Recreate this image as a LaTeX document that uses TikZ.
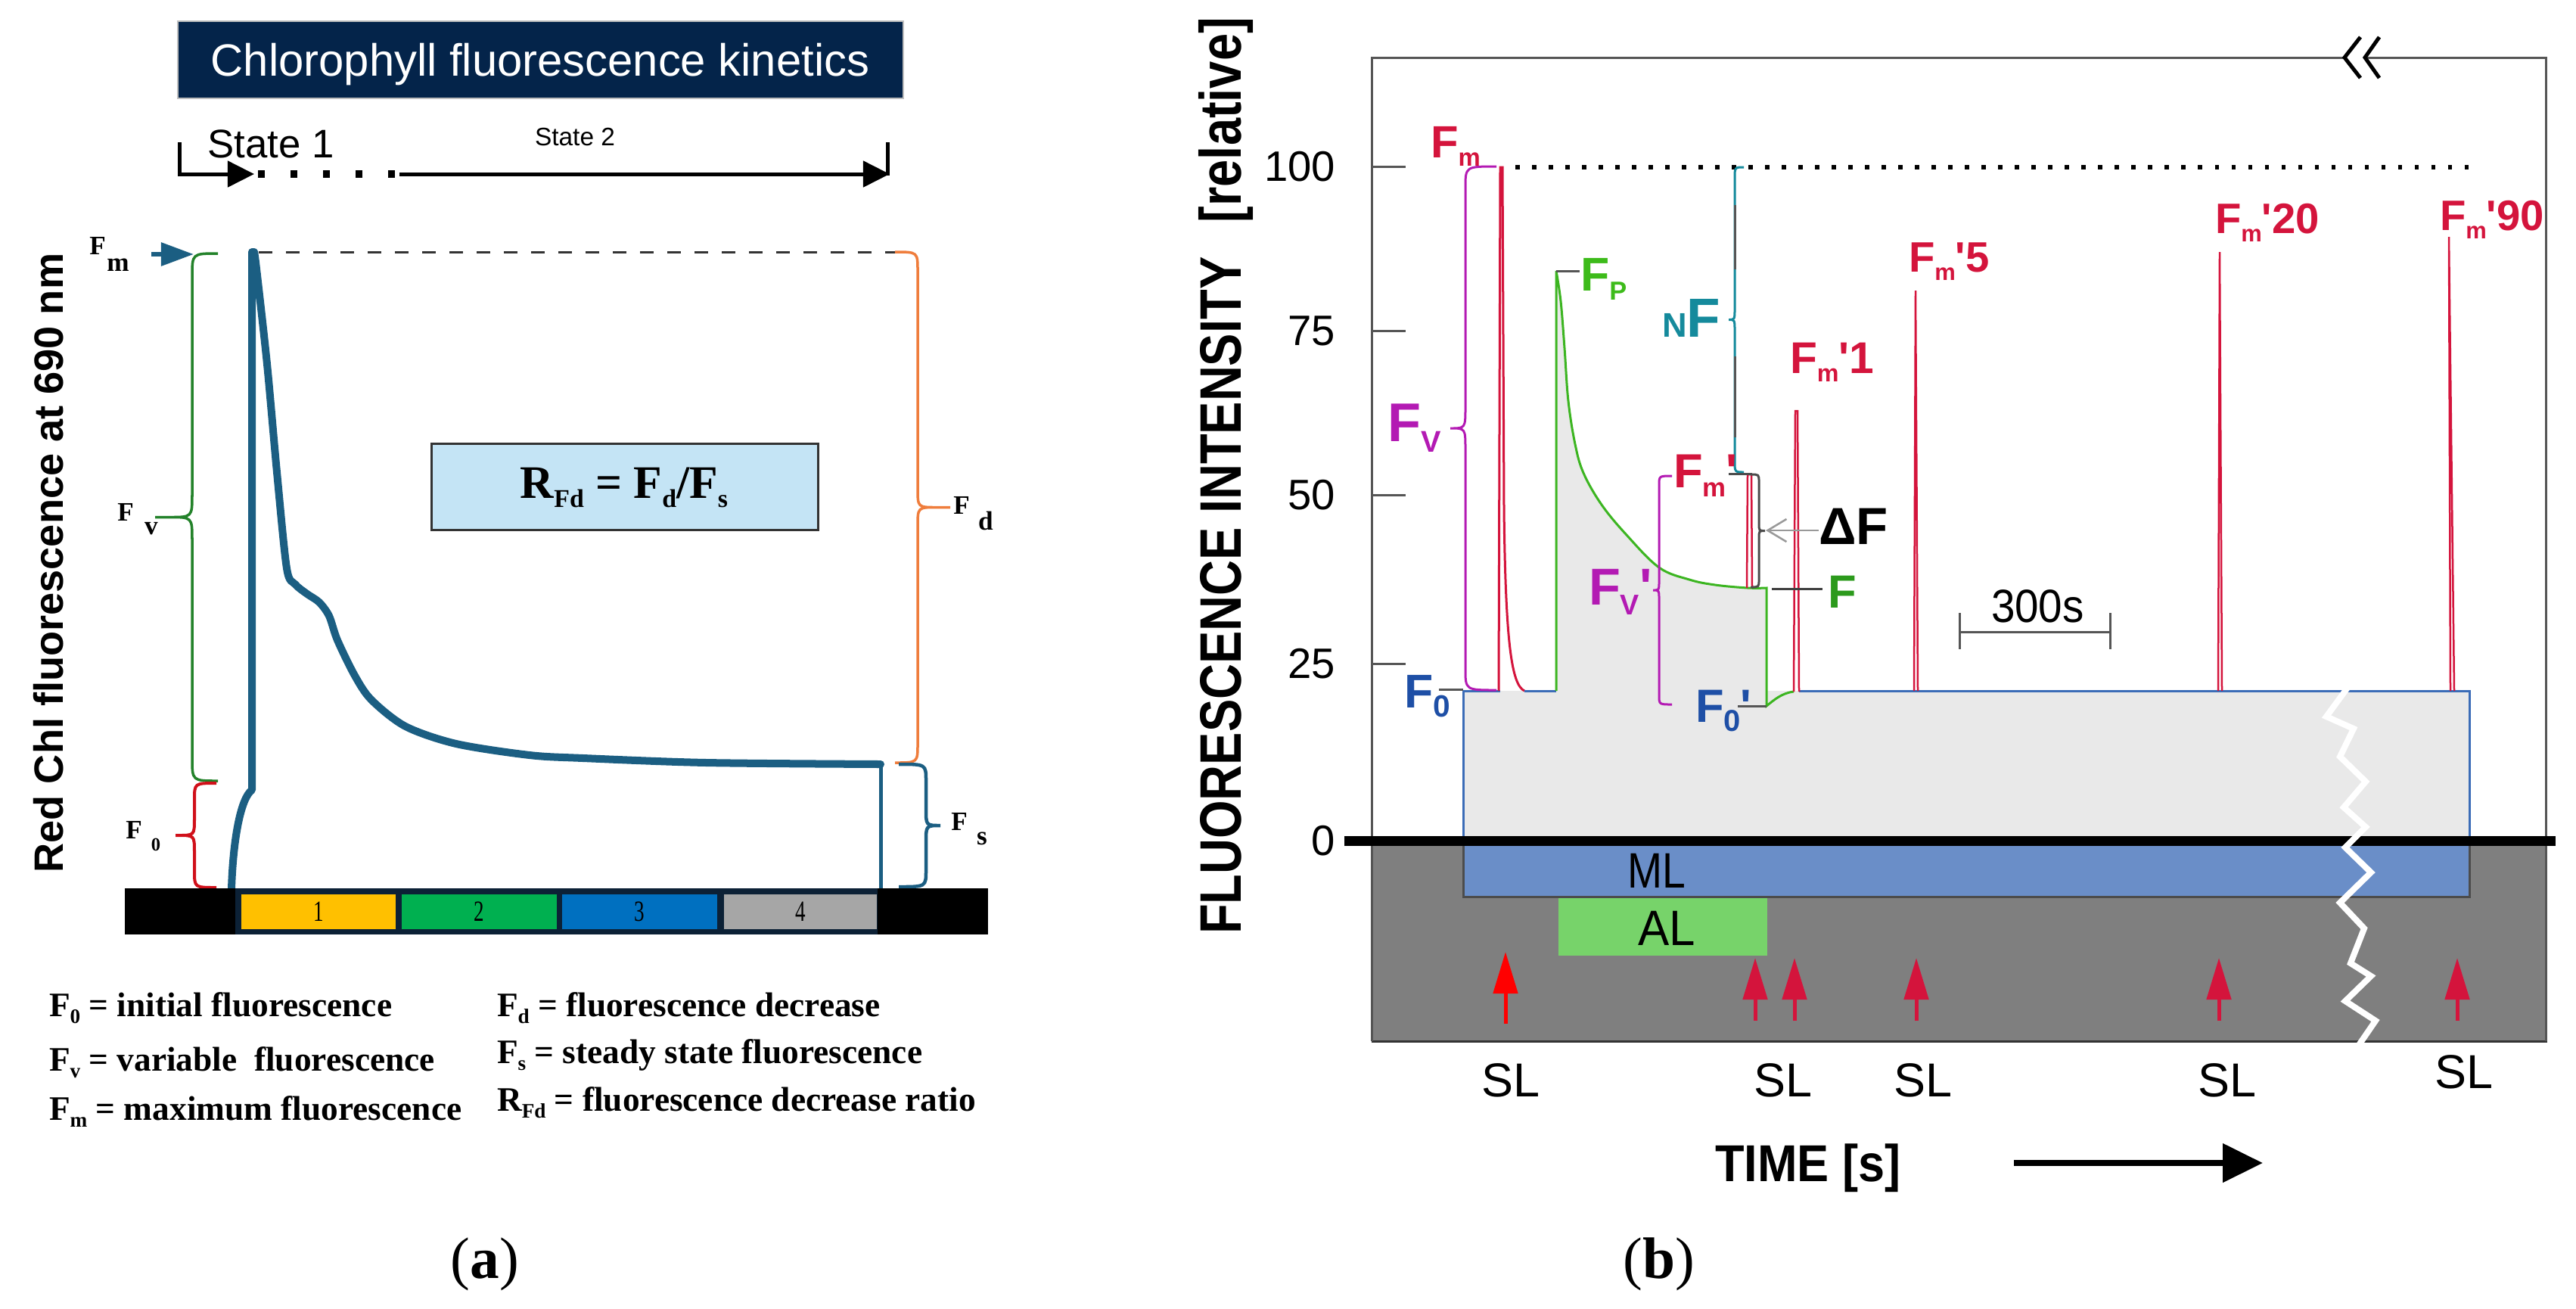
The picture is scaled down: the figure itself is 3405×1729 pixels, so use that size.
\documentclass[tikz,border=0pt]{standalone}
\usepackage{fontspec}
\usepackage{graphicx}
\setmainfont{Liberation Serif}
\newfontfamily\sans{Liberation Sans}
\newfontfamily\serif{Liberation Serif}
\usetikzlibrary{arrows.meta}
\newcommand\fsz[1]{\fontsize{#1}{#1}\selectfont}
\newcommand\lsub[2][0.55]{\raisebox{-0.2em}{\scalebox{#1}{#2}}}
\newcommand\bracev[7]{%
 \pgfmathsetmacro\bym{(#5+#6)/2}%
 \pgfmathsetmacro\bxm{#2+(#4-#2)*min(1,#7/abs(#4-#2))}%
 \draw[#1] (#3,#5) .. controls (#2,#5) .. (#2,{#5+#7}) -- (#2,{\bym-#7}) .. controls (#2,\bym) .. (\bxm,\bym) -- (#4,\bym) -- (\bxm,\bym) .. controls (#2,\bym) .. (#2,{\bym+#7}) -- (#2,{#6-#7}) .. controls (#2,#6) .. (#3,#6);}
\definecolor{navy}{HTML}{04244A}
\definecolor{cblue}{HTML}{1B5E82}
\definecolor{bgreen}{HTML}{23822A}
\definecolor{bred}{HTML}{D0101A}
\definecolor{borange}{HTML}{EF7D3C}
\definecolor{boxblue}{HTML}{C4E4F5}
\definecolor{barnavy}{HTML}{0C2136}
\definecolor{bxa}{HTML}{FFC000}
\definecolor{bxb}{HTML}{00B050}
\definecolor{bxc}{HTML}{0070C0}
\definecolor{bxd}{HTML}{A6A6A6}
\definecolor{crim}{HTML}{D4143C}
\definecolor{mag}{HTML}{B31AB3}
\definecolor{tealc}{HTML}{158A9C}
\definecolor{lblue}{HTML}{1E4FA6}
\definecolor{tblue}{HTML}{3B6CB7}
\definecolor{tgreen}{HTML}{3CB521}
\definecolor{lgreen}{HTML}{3DBB1A}
\definecolor{fgreen}{HTML}{2C9A1C}
\definecolor{lgrayc}{HTML}{E9E9E9}
\definecolor{dgrayc}{HTML}{7F7F7F}
\definecolor{mlblue}{HTML}{6A8EC8}
\definecolor{algreen}{HTML}{77D36A}
\definecolor{frgray}{HTML}{555555}
\begin{document}
\begin{tikzpicture}[x=0.01cm,y=-0.01cm,
  every node/.style={inner sep=0pt,outer sep=0pt},
  serlab/.style={font=\serif\bfseries\fsz{10}},
  leg/.style={anchor=base west,font=\serif\bfseries\fsz{12.9}},
  blab/.style={anchor=base west},
  stline/.style={line width=0.05cm},
  trace/.style={line width=0.03cm},
  thin gray/.style={frgray,line width=0.03cm},
  slarrow/.style={crim,line width=0.05cm,-{Triangle[length=0.55cm,width=0.32cm]}},
  sllab/.style={font=\sans\fsz{17.9}},
  tick/.style={anchor=east,font=\sans\fsz{16}}]
\useasboundingbox (0,0) rectangle (3405,1729);

% ================= Panel a =================
\fill[navy,draw=gray!50,line width=0.02cm] (235,28) rectangle (1194,130);
\node[anchor=base,text=white,font=\sans\fsz{17}] (title) at (714,100) {Chlorophyll fluorescence kinetics};

\node[anchor=base,font=\sans\fsz{15}] (st1) at (358,208) {State 1};
\node[anchor=base,font=\sans\fsz{9.5}] (st2) at (760,192) {State 2};
\draw[stline,-{Triangle[length=0.35cm,width=0.34cm]}] (237,188) -- (237,230) -- (336,230);
\draw[line width=0.1cm,dash pattern=on 0.09cm off 0.34cm] (341,230) -- (526,230);
\draw[stline,-{Triangle[length=0.35cm,width=0.34cm]}] (528,230) -- (1176,230);
\draw[stline] (1173,188) -- (1173,232);

\node[rotate=90,font=\sans\bfseries\fsz{15.4}] (ylabA) at (64,744) {Red Chl fluorescence at 690 nm};

% Fm arrow
\coordinate (fmtail) at (200,336);
\coordinate (fmhead) at (256,336);
\draw[cblue,line width=0.06cm,-{Triangle[length=0.43cm,width=0.3cm]}] (fmtail) -- (fmhead);

% braces
\bracev{bgreen,line width=0.035cm}{254}{288}{205}{335}{1032}{30}
\bracev{bred,line width=0.04cm}{257}{286}{232}{1035}{1173}{22}
\bracev{borange,line width=0.035cm}{1213}{1183}{1256}{333}{1008}{25}
\bracev{cblue,line width=0.045cm}{1224}{1188}{1243}{1010}{1172}{22}

% labels a
\node[serlab] (aFm) at (129,325) {F};  \node[serlab] (aFmS) at (156,350) {m};
\node[serlab] (aFv) at (166,677) {F};  \node[serlab] (aFvS) at (200,699) {v};
\node[serlab] (aF0) at (177,1097) {F}; \node[font=\serif\bfseries\fsz{7}] (aF0S) at (206,1116) {0};
\node[serlab] (aFd) at (1271,668) {F}; \node[serlab] (aFdS) at (1303,688) {d};
\node[serlab] (aFs) at (1268,1086) {F}; \node[serlab] (aFsS) at (1298,1108) {s};

% dashed Fm level
\draw[dash pattern=on 0.18cm off 0.18cm,line width=0.03cm,black!80] (342,333) -- (1183,333);

% kinetics curve
\draw[cblue,line width=0.1cm,line join=round,line cap=round]
  (306,1175) .. controls (308,1110) and (318,1055) .. (333,1044) -- (333,333)
  -- plot[smooth,tension=0.5] coordinates {(336,333) (339,355) (353,481) (366,624) (379,751) (390,772) (406,785) (422,796) (435,814) (446,846) (469,893) (491,925) (536,960) (603,983) (700,998) (771,1002) (934,1008) (1164,1010)};
\draw[cblue,line width=0.05cm] (1164,1008) -- (1164,1174);

% ratio box
\draw[fill=boxblue,draw=black!80,line width=0.03cm] (570,586) rectangle (1081,700);
\node[anchor=base,font=\serif\bfseries\fsz{17.5}] (rfd) at (825,658) {R\lsub{Fd}~=~F\lsub{d}/F\lsub{s}};

% bottom bar
\fill[black] (165,1174) rectangle (1306,1235);
\fill[barnavy] (311,1174) rectangle (1160,1235);
\fill[bxa] (319,1182) rectangle (523,1228);
\fill[bxb] (531,1182) rectangle (736,1228);
\fill[bxc] (743,1182) rectangle (948,1228);
\fill[bxd] (957,1182) rectangle (1159,1228);
\node[font=\serif\fsz{11}] (n1) at (421,1205) {\scalebox{0.7}[1]{1}};
\node[font=\serif\fsz{11}] (n2) at (633,1205) {\scalebox{0.7}[1]{2}};
\node[font=\serif\fsz{11}] (n3) at (845,1205) {\scalebox{0.7}[1]{3}};
\node[font=\serif\fsz{11}] (n4) at (1058,1205) {\scalebox{0.7}[1]{4}};

% legend
\node[leg] (l1) at (65,1343) {F\lsub[0.6]{0} = initial fluorescence};
\node[leg] (l2) at (65,1415) {F\lsub[0.6]{v} = variable\ \ fluorescence};
\node[leg] (l3) at (65,1480) {F\lsub[0.6]{m} = maximum fluorescence};
\node[leg] (l4) at (657,1343) {F\lsub[0.6]{d} = fluorescence decrease};
\node[leg] (l5) at (657,1405) {F\lsub[0.6]{s} = steady state fluorescence};
\node[leg] (l6) at (657,1468) {R\lsub[0.6]{Fd} = fluorescence decrease ratio};

\node[font=\serif\fsz{22}] (capa) at (641,1671) {(\textbf{a})};

% ================= Panel b =================
\fill[dgrayc] (1813,1111) rectangle (3367,1376);
\draw[black!80,line width=0.03cm] (1813,1376) -- (3367,1376);
\fill[lgrayc] (1936,1105) -- (1936,913) -- (2057,913) -- (2057,358)
  -- plot[smooth,tension=0.6] coordinates {(2057,358) (2063,398) (2068,460) (2073,530) (2082,587) (2093,625) (2117,667) (2150,707) (2193,750) (2233,766) (2267,773) (2310,777) (2335,777)}
  -- (2335,913) -- (3264,913) -- (3264,1105) -- cycle;
\fill[mlblue] (1934,1118) rectangle (3264,1185);
\draw[black!70,line width=0.03cm] (1934,1111) -- (1934,1185) -- (3264,1185) -- (3264,1111);
\fill[algreen] (2060,1187) rectangle (2336,1263);
\node[font=\sans\fsz{18.7}] (ML) at (2190,1151) {\scalebox{0.84}[1]{ML}};
\node[font=\sans\fsz{18.7}] (AL) at (2203,1227) {\scalebox{0.94}[1]{AL}};

% frame
\draw[thin gray] (1813,1376) -- (1813,76) -- (3099,76);
\draw[thin gray] (3126,76) -- (3365,76) -- (3365,1376);
\draw[black,line width=0.05cm] (3120,49) -- (3099,76) -- (3120,103);
\draw[black,line width=0.05cm] (3145,49) -- (3126,76) -- (3145,103);
\foreach \yy in {220,437,654,877} \draw[thin gray] (1813,\yy) -- (1858,\yy);
\node[tick] (t100) at (1765,220) {100};
\node[tick] (t75) at (1765,437) {75};
\node[tick] (t50) at (1765,654) {50};
\node[tick] (t25) at (1765,877) {25};
\node[tick] (t0) at (1765,1111) {0};
\node[rotate=90,font=\sans\bfseries\fsz{22}] (ylabB) at (1620,629) {\scalebox{0.84}[1]{FLUORESCENCE INTENSITY\hspace{0.7em}[relative]}};

% zero line
\draw[line width=0.13cm] (1777,1111) -- (3378,1111);

% 100 level dotted
\draw[line width=0.055cm,dash pattern=on 0.055cm off 0.165cm] (2003,221) -- (3272,221);

% traces
\draw[tblue,trace] (1934,1105) -- (1934,913) -- (1983,913);
\draw[crim,trace] (1981,913) -- (1983,221) -- (1986,221) -- (1988,672) .. controls (1990,850) and (1998,905) .. (2015,913);
\draw[tblue,trace] (2015,913) -- (2057,913);
\draw[tgreen,trace] (2057,913) -- (2057,358)
  -- plot[smooth,tension=0.6] coordinates {(2057,358) (2063,398) (2068,460) (2073,530) (2082,587) (2093,625) (2117,667) (2150,707) (2193,750) (2233,766) (2267,773) (2310,777) (2335,777)}
  -- (2335,933) .. controls (2345,925) and (2355,916) .. (2371,914);
\draw[tblue,trace] (2378,913) -- (3264,913) -- (3264,1105);
\draw[crim,line width=0.025cm] (2309,777) -- (2310,627) -- (2315,627) -- (2316,777);
\draw[crim,line width=0.025cm] (2371,914) -- (2373,543) -- (2376,543) -- (2378,914);
\draw[crim,line width=0.025cm] (2530,913) -- (2532,384) -- (2535,913);
\draw[crim,line width=0.025cm] (2932,913) -- (2934,333) -- (2937,913);
\draw[crim,line width=0.025cm] (3239,913) -- (3237,313) -- (3244,913);

% small ticks
\draw[thin gray] (1902,911) -- (1934,911);
\draw[thin gray] (2057,358) -- (2088,358);
\draw[thin gray] (2297,933) -- (2335,933);
\draw[black!75,line width=0.03cm] (2342,778) -- (2409,778);

% braces b
\bracev{mag,line width=0.03cm}{1937}{1978}{1917}{220}{912}{28}
\bracev{mag,line width=0.03cm}{2193}{2210}{2185}{629}{931}{12}
\bracev{tealc,line width=0.03cm}{2293}{2305}{2285}{221}{624}{15}
\draw[thin gray] (2293,271) -- (2293,356);
\draw[thin gray] (2293,471) -- (2293,578);
\draw[black!70,line width=0.03cm] (2285,626) -- (2316,626);
\bracev{black!70,line width=0.03cm}{2325}{2314}{2333}{627}{776}{10}

% 300s scale bar
\draw[thin gray] (2590,835) -- (2789,835);
\draw[thin gray] (2590,810) -- (2590,858);
\draw[thin gray] (2789,810) -- (2789,858);
\node[blab,font=\sans\fsz{17.5}] (s300) at (2632,822) {\scalebox{0.92}[1]{300s}};

% labels b
\node[blab,text=crim,font=\sans\bfseries\fsz{17}] (bFm) at (1891,208) {F\lsub{m}};
\node[blab,text=mag,font=\sans\bfseries\fsz{20.5}] (bFv) at (1834,583) {F\lsub{V}};
\node[blab,text=lgreen,font=\sans\bfseries\fsz{17.8}] (bFp) at (2089,384) {F\lsub{P}};
\node[blab,text=tealc,font=\sans\bfseries\fsz{20.7}] (bNF) at (2197,445) {\scalebox{0.62}{N}F};
\node[blab,text=crim,font=\sans\bfseries\fsz{18}] (bFmp) at (2212,644) {F\lsub{m}\textquotesingle};
\node[blab,text=mag,font=\sans\bfseries\fsz{19.5}] (bFvp) at (2100,799) {F\lsub{V}\textquotesingle};
\node[blab,text=lblue,font=\sans\bfseries\fsz{17.8}] (bF0) at (1856,935) {F\lsub[0.65]{0}};
\node[blab,text=lblue,font=\sans\bfseries\fsz{17.5}] (bF0p) at (2241,954) {F\lsub[0.65]{0}\textquotesingle};
\node[blab,text=crim,font=\sans\bfseries\fsz{16.7}] (bFm1) at (2366,493) {F\lsub{m}\textquotesingle 1};
\node[blab,text=crim,font=\sans\bfseries\fsz{16}] (bFm5) at (2523,359) {F\lsub{m}\textquotesingle 5};
\node[blab,text=crim,font=\sans\bfseries\fsz{16}] (bFm20) at (2928,308) {F\lsub{m}\textquotesingle 20};
\node[blab,text=crim,font=\sans\bfseries\fsz{16}] (bFm90) at (3225,304) {F\lsub{m}\textquotesingle 90};
\node[blab,font=\sans\bfseries\fsz{19.6}] (bdF) at (2404,719) {ΔF};
\node[blab,text=fgreen,font=\sans\bfseries\fsz{17.5}] (bF) at (2416,803) {F};
\coordinate (dFtip) at (2334,701);
\draw[black!40,line width=0.025cm,-{Straight Barb[length=0.25cm,width=0.3cm]}] (bdF.west |- dFtip) -- (dFtip);

% break zigzag
\draw[white,line width=0.08cm]
  (3111,898) -- (3075,947) -- (3111,963) -- (3093,1000) -- (3127,1033) -- (3098,1067) -- (3127,1093) -- (3100,1120) -- (3134,1153) -- (3093,1193) -- (3125,1227) -- (3107,1273) -- (3134,1290) -- (3100,1323) -- (3140,1349) -- (3105,1400);

% SL arrows
\draw[red,line width=0.05cm,-{Triangle[length=0.55cm,width=0.32cm]}] (1990,1353) -- (1990,1258);
\foreach \ax in {2320,2372,2533,2933,3248} \draw[slarrow] (\ax,1349) -- (\ax,1266);
\node[sllab] (sl1) at (1997,1428) {SL};
\node[sllab] (sl2) at (2357,1428) {SL};
\node[sllab] (sl3) at (2542,1428) {SL};
\node[sllab] (sl4) at (2944,1428) {SL};
\node[sllab] (sl5) at (3257,1417) {SL};

% time axis
\node[anchor=base,font=\sans\bfseries\fsz{19.5}] (time) at (2390,1561) {\scalebox{0.92}[1]{TIME [s]}};
\coordinate (tarrA) at (2662,1537);
\coordinate (tarrB) at (2991,1537);
\draw[line width=0.08cm,-{Triangle[length=0.53cm,width=0.5cm]}] (tarrA) -- (tarrB);

\node[font=\serif\fsz{22}] (capb) at (2193,1671) {(\textbf{b})};
\end{tikzpicture}
\end{document}
